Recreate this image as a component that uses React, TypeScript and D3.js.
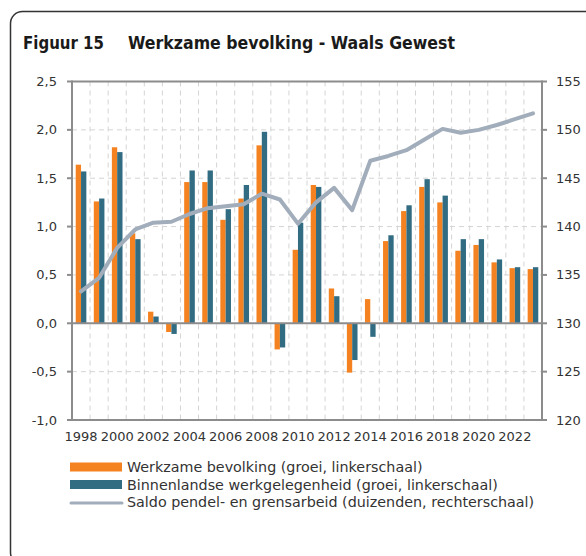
import React, { useEffect, useRef } from 'react'
import * as d3 from 'd3'

const years: string[] = [
  '1998', '1999', '2000', '2001', '2002', '2003', '2004', '2005', '2006', '2007', '2008', '2009', '2010',
  '2011', '2012', '2013', '2014', '2015', '2016', '2017', '2018', '2019', '2020', '2021', '2022', '2023'
]

// werkzame bevolking (groei, %)
const workforce: number[] = [
  1.64, 1.26, 1.82, 0.93, 0.12, -0.09, 1.46, 1.46, 1.07, 1.29, 1.84, -0.27, 0.76,
  1.43, 0.36, -0.51, 0.25, 0.85, 1.16, 1.41, 1.25, 0.75, 0.81, 0.63, 0.57, 0.56
]

// binnenlandse werkgelegenheid (groei, %)
const employment: number[] = [
  1.57, 1.29, 1.77, 0.87, 0.07, -0.11, 1.58, 1.58, 1.18, 1.43, 1.98, -0.25, 1.04,
  1.41, 0.28, -0.38, -0.14, 0.91, 1.22, 1.49, 1.32, 0.87, 0.87, 0.66, 0.58, 0.58
]

// saldo pendel- en grensarbeid (duizenden)
const commuting: number[] = [
  133.3, 134.7, 137.8, 139.7, 140.4, 140.5, 141.3, 141.9, 142.1, 142.3, 143.4, 142.8, 140.3,
  142.5, 144.0, 141.7, 146.8, 147.3, 147.9, 149.0, 150.1, 149.7, 150.0, 150.5, 151.1, 151.7
]

const leftTicks: number[] = [-1, -0.5, 0, 0.5, 1, 1.5, 2, 2.5]
const rightTicks: number[] = [120, 125, 130, 135, 140, 145, 150, 155]
const yearLabels: string[] = ['1998', '2000', '2002', '2004', '2006', '2008', '2010', '2012', '2014', '2016', '2018', '2020', '2022']

const legendItems = [
  { label: 'Werkzame bevolking (groei, linkerschaal)', kind: 'bar', color: '#f58220' },
  { label: 'Binnenlandse werkgelegenheid (groei, linkerschaal)', kind: 'bar', color: '#316c82' },
  { label: 'Saldo pendel- en grensarbeid (duizenden, rechterschaal)', kind: 'line', color: '#a2adbb' }
]

const ORANGE = '#f58220'
const TEAL = '#316c82'
const LINE = '#a2adbb'
const AXIS = '#8c8c8c'
const GRID = '#d4d4d4'
const TEXT = '#333333'
const FONT = '"DejaVu Sans", Verdana, sans-serif'

const App: React.FC = () => {
  const svgRef = useRef<SVGSVGElement>(null)

  useEffect(() => {
    if (!svgRef.current) return
    const svg = d3.select(svgRef.current)
    svg.selectAll('*').remove()

    const plot = { left: 72, right: 542, top: 81.5, bottom: 420 }

    // frame
    svg.append('rect')
      .attr('x', 10.5).attr('y', 11.5)
      .attr('width', 620).attr('height', 553)
      .attr('rx', 12)
      .attr('fill', '#fff')
      .attr('stroke', '#333')
      .attr('stroke-width', 1.5)

    // title
    svg.append('text')
      .attr('x', 23).attr('y', 49)
      .attr('textLength', 81).attr('lengthAdjust', 'spacingAndGlyphs')
      .style('font-family', FONT).style('font-weight', 'bold').style('font-size', '17px')
      .attr('fill', '#1a1a1a')
      .text('Figuur 15')
    svg.append('text')
      .attr('x', 128).attr('y', 49)
      .attr('textLength', 327).attr('lengthAdjust', 'spacingAndGlyphs')
      .style('font-family', FONT).style('font-weight', 'bold').style('font-size', '17px')
      .attr('fill', '#1a1a1a')
      .text('Werkzame bevolking - Waals Gewest')

    // scales
    const x0 = d3.scaleBand<string>().domain(years).range([plot.left, plot.right]).padding(0)
    const x1 = d3.scaleBand<string>().domain(['a', 'b']).range([0, x0.bandwidth()])
      .paddingInner(0).paddingOuter(0.7)
    const yL = d3.scaleLinear().domain([-1, 2.5]).range([plot.bottom, plot.top])
    const yR = d3.scaleLinear().domain([120, 155]).range([plot.bottom, plot.top])

    // grid
    const grid = svg.append('g')
    grid.selectAll('.hgrid')
      .data(leftTicks.filter(d => d !== -1 && d !== 0 && d !== 2.5))
      .enter().append('line')
      .attr('x1', plot.left).attr('x2', plot.right)
      .attr('y1', d => yL(d)).attr('y2', d => yL(d))
      .attr('stroke', GRID).attr('stroke-width', 1).attr('stroke-dasharray', '5,4')
    grid.selectAll('.vgrid')
      .data(years.slice(1))
      .enter().append('line')
      .attr('x1', d => (x0(d) ?? 0)).attr('x2', d => (x0(d) ?? 0))
      .attr('y1', plot.top).attr('y2', plot.bottom)
      .attr('stroke', GRID).attr('stroke-width', 1).attr('stroke-dasharray', '5,4')

    // bars
    const groups = svg.append('g').selectAll('g')
      .data(years)
      .enter().append('g')
      .attr('transform', d => `translate(${x0(d)},0)`)

    groups.append('rect')
      .attr('x', x1('a') ?? 0)
      .attr('width', x1.bandwidth())
      .attr('y', (d, i) => yL(Math.max(0, workforce[i])))
      .attr('height', (d, i) => Math.abs(yL(workforce[i]) - yL(0)))
      .attr('fill', ORANGE)

    groups.append('rect')
      .attr('x', x1('b') ?? 0)
      .attr('width', x1.bandwidth())
      .attr('y', (d, i) => yL(Math.max(0, employment[i])))
      .attr('height', (d, i) => Math.abs(yL(employment[i]) - yL(0)))
      .attr('fill', TEAL)

    // axes lines
    const axes = svg.append('g').attr('stroke', AXIS).attr('stroke-width', 2)
    axes.append('line').attr('x1', plot.left).attr('x2', plot.right).attr('y1', plot.top).attr('y2', plot.top)
    axes.append('line').attr('x1', plot.left).attr('x2', plot.right).attr('y1', plot.bottom).attr('y2', plot.bottom)
    axes.append('line').attr('x1', plot.left).attr('x2', plot.right).attr('y1', yL(0)).attr('y2', yL(0))
    axes.append('line').attr('x1', plot.left).attr('x2', plot.left).attr('y1', plot.top - 1).attr('y2', plot.bottom + 1)
    axes.append('line').attr('x1', plot.right).attr('x2', plot.right).attr('y1', plot.top - 1).attr('y2', plot.bottom + 1)

    // line series
    const line = d3.line<number>()
      .x((d, i) => (x0(years[i]) ?? 0) + x0.bandwidth() / 2)
      .y(d => yR(d))

    svg.append('path')
      .datum(commuting)
      .attr('fill', 'none')
      .attr('stroke', LINE)
      .attr('stroke-width', 4)
      .attr('stroke-linejoin', 'round')
      .attr('stroke-linecap', 'round')
      .attr('d', line)

    // left axis ticks and labels
    const fmt = (v: number) => d3.format('.1f')(v).replace('.', ',').replace('−', '-')
    const left = svg.append('g')
    left.selectAll('line')
      .data(leftTicks)
      .enter().append('line')
      .attr('x1', plot.left - 5).attr('x2', plot.left)
      .attr('y1', d => yL(d)).attr('y2', d => yL(d))
      .attr('stroke', AXIS).attr('stroke-width', 2)
    left.selectAll('text')
      .data(leftTicks)
      .enter().append('text')
      .attr('x', plot.left - 15)
      .attr('y', d => yL(d))
      .attr('dy', '0.35em')
      .attr('text-anchor', 'end')
      .style('font-family', FONT).style('font-size', '13px')
      .attr('fill', TEXT)
      .text(d => fmt(d))

    // right axis ticks and labels
    const right = svg.append('g')
    right.selectAll('line')
      .data(rightTicks)
      .enter().append('line')
      .attr('x1', plot.right).attr('x2', plot.right + 5)
      .attr('y1', d => yR(d)).attr('y2', d => yR(d))
      .attr('stroke', AXIS).attr('stroke-width', 2)
    right.selectAll('text')
      .data(rightTicks)
      .enter().append('text')
      .attr('x', plot.right + 14)
      .attr('y', d => yR(d))
      .attr('dy', '0.35em')
      .style('font-family', FONT).style('font-size', '13px')
      .attr('fill', TEXT)
      .text(d => d)

    // x labels
    svg.append('g').selectAll('text')
      .data(yearLabels)
      .enter().append('text')
      .attr('x', d => (x0(d) ?? 0) + x0.bandwidth() / 2)
      .attr('y', 436)
      .attr('dy', '0.35em')
      .attr('text-anchor', 'middle')
      .style('font-family', FONT).style('font-size', '13px')
      .attr('fill', TEXT)
      .text(d => d)

    // legend
    const legend = svg.append('g').attr('transform', 'translate(70, 467)')
    const items = legend.selectAll('g')
      .data(legendItems)
      .enter().append('g')
      .attr('transform', (d, i) => `translate(0, ${i * 17.5})`)

    items.filter(d => d.kind === 'bar').append('rect')
      .attr('x', 0).attr('y', -4.5)
      .attr('width', 52).attr('height', 9)
      .attr('fill', d => d.color)
    items.filter(d => d.kind === 'line').append('line')
      .attr('x1', 1).attr('x2', 52).attr('y1', 1).attr('y2', 1)
      .attr('stroke', d => d.color).attr('stroke-width', 3).attr('stroke-linecap', 'round')
    items.append('text')
      .attr('x', 57).attr('y', 0)
      .attr('dy', '0.35em')
      .style('font-family', FONT).style('font-size', '14.3px')
      .attr('fill', TEXT)
      .text(d => d.label)
  }, [])

  return (
    <div style={{ position: 'absolute', left: 0, top: 0 }}>
      <svg ref={svgRef} width={586} height={556} style={{ display: 'block' }}></svg>
    </div>
  )
}

export default App
